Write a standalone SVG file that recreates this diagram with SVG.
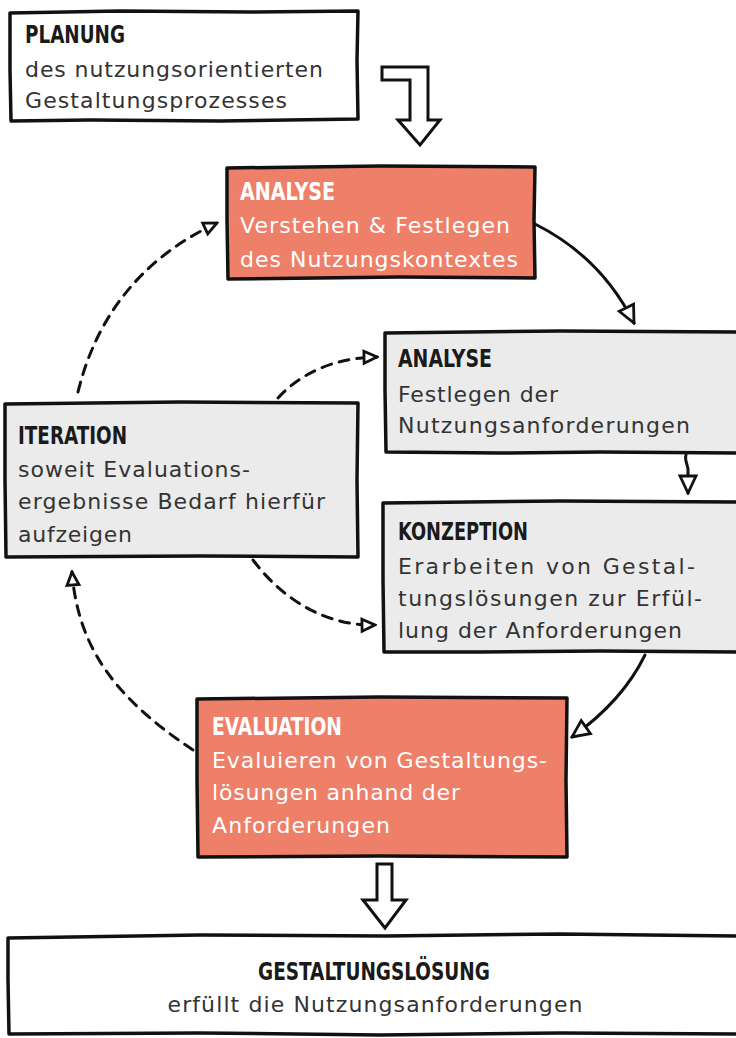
<svg xmlns="http://www.w3.org/2000/svg" width="736" height="1038" viewBox="0 0 736 1038">
<style>
.box{stroke:#111;stroke-width:3.5;stroke-linejoin:round}
.w{fill:#ffffff}
.g{fill:#ebebeb}
.o{fill:#ee806a}
.h{font-family:"DejaVu Sans Condensed","DejaVu Sans","Liberation Sans",sans-serif;font-stretch:condensed;font-weight:bold;font-size:25px;fill:#1a1a1a}
.b{font-family:"DejaVu Sans","Liberation Sans",sans-serif;font-size:22px;fill:#333333}
.ho{fill:#ffffff}
.bo{fill:#ffffff}
.c{fill:none;stroke:#111;stroke-width:3;stroke-linecap:round}
.d{stroke-dasharray:10 8}
.ha{fill:#ffffff;stroke:#111;stroke-width:3;stroke-linejoin:miter}
</style>
<defs>
<marker id="big" viewBox="0 0 22 22" refX="20" refY="11" markerWidth="22" markerHeight="22" markerUnits="userSpaceOnUse" orient="auto">
<path d="M3,3 L20,11 L3,19 Z" fill="#fff" stroke="#111" stroke-width="2.8"/>
</marker>
<marker id="sm" viewBox="0 0 18 18" refX="16" refY="9" markerWidth="18" markerHeight="18" markerUnits="userSpaceOnUse" orient="auto">
<path d="M3,3 L16,9 L3,15 Z" fill="#fff" stroke="#111" stroke-width="2.8"/>
</marker>
</defs>

<g id="connectors">
<path class="c" d="M535,224 C575,244 610,275 634,323" marker-end="url(#big)"/>
<path class="c" d="M686,455 C684,461 689,466 688,472 L688,493" marker-end="url(#big)"/>
<path class="c" d="M645,655 C628,690 603,715 572,737" marker-end="url(#big)"/>
<path class="c d" d="M78,392 C98,310 148,255 217,223" marker-end="url(#sm)"/>
<path class="c d" d="M278,398 C300,374 332,358 377,357" marker-end="url(#sm)"/>
<path class="c d" d="M253,560 C280,596 322,626 375,625" marker-end="url(#sm)"/>
<path class="c d" d="M193,750 C118,700 78,650 72,572" marker-end="url(#sm)"/>
<path class="ha" d="M382,67 L428,67 L428,120 L440,120 L420,145 L398,120 L410,120 L410,80 L382,80 Z"/>
<path class="ha" d="M377,864 L392,864 L392,900 L406,900 L385,928 L363,900 L377,900 Z"/>
</g>

<g id="planung">
<path class="box w" d="M10,13 L120,11 L250,12 L358,11 L357,60 L358,119 L220,121 L90,120 L11,121 L10,70 Z"/>
<text class="h" x="25" y="43" textLength="100" lengthAdjust="spacingAndGlyphs">PLANUNG</text>
<text class="b" x="25" y="77" textLength="298" lengthAdjust="spacing">des nutzungsorientierten</text>
<text class="b" x="25" y="108" textLength="262" lengthAdjust="spacing">Gestaltungsprozesses</text>
</g>

<g id="analyse-kontext">
<path class="box o" d="M227,168 L380,166 L535,167 L534,220 L535,278 L400,277 L228,279 L227,220 Z"/>
<text class="h ho" x="240" y="200" textLength="95" lengthAdjust="spacingAndGlyphs">ANALYSE</text>
<text class="b bo" x="240" y="233" textLength="270" lengthAdjust="spacing">Verstehen &amp; Festlegen</text>
<text class="b bo" x="240" y="267" textLength="278" lengthAdjust="spacing">des Nutzungskontextes</text>
</g>

<g id="analyse-anforderungen">
<path class="box g" d="M385,333 L560,331 L745,332 L745,453 L600,452 L500,453 L386,452 L385,390 Z"/>
<text class="h" x="398" y="367" textLength="94" lengthAdjust="spacingAndGlyphs">ANALYSE</text>
<text class="b" x="398" y="402" textLength="160" lengthAdjust="spacing">Festlegen der</text>
<text class="b" x="398" y="433" textLength="292" lengthAdjust="spacing">Nutzungsanforderungen</text>
</g>

<g id="konzeption">
<path class="box g" d="M383,503 L560,501 L745,502 L745,652 L600,651 L480,652 L384,652 L383,580 Z"/>
<text class="h" x="398" y="540" textLength="130" lengthAdjust="spacingAndGlyphs">KONZEPTION</text>
<text class="b" x="398" y="574" textLength="297" lengthAdjust="spacing">Erarbeiten von Gestal-</text>
<text class="b" x="398" y="606" textLength="304" lengthAdjust="spacing">tungslösungen zur Erfül-</text>
<text class="b" x="398" y="638" textLength="284" lengthAdjust="spacing">lung der Anforderungen</text>
</g>

<g id="iteration">
<path class="box g" d="M5,404 L180,402 L358,403 L357,480 L358,557 L200,556 L6,557 L5,480 Z"/>
<text class="h" x="18" y="444" textLength="109" lengthAdjust="spacingAndGlyphs">ITERATION</text>
<text class="b" x="18" y="477" textLength="232" lengthAdjust="spacing">soweit Evaluations-</text>
<text class="b" x="18" y="509" textLength="307" lengthAdjust="spacing">ergebnisse Bedarf hierfür</text>
<text class="b" x="18" y="542" textLength="114" lengthAdjust="spacing">aufzeigen</text>
</g>

<g id="evaluation">
<path class="box o" d="M197,699 L380,697 L567,698 L566,780 L567,857 L380,856 L198,857 L197,780 Z"/>
<text class="h ho" x="212" y="735" textLength="130" lengthAdjust="spacingAndGlyphs">EVALUATION</text>
<text class="b bo" x="212" y="768" textLength="335" lengthAdjust="spacing">Evaluieren von Gestaltungs-</text>
<text class="b bo" x="212" y="800" textLength="248" lengthAdjust="spacing">lösungen anhand der</text>
<text class="b bo" x="212" y="833" textLength="178" lengthAdjust="spacing">Anforderungen</text>
</g>

<g id="gestaltungsloesung">
<path class="box w" d="M8,938 L200,935 L385,936 L560,934 L745,936 L745,1034 L560,1033 L380,1035 L200,1033 L9,1034 L8,980 Z"/>
<text class="h" x="374" y="980" text-anchor="middle" textLength="232" lengthAdjust="spacingAndGlyphs">GESTALTUNGSLÖSUNG</text>
<text class="b" x="375" y="1012" text-anchor="middle" textLength="415" lengthAdjust="spacing">erfüllt die Nutzungsanforderungen</text>
</g>
</svg>
